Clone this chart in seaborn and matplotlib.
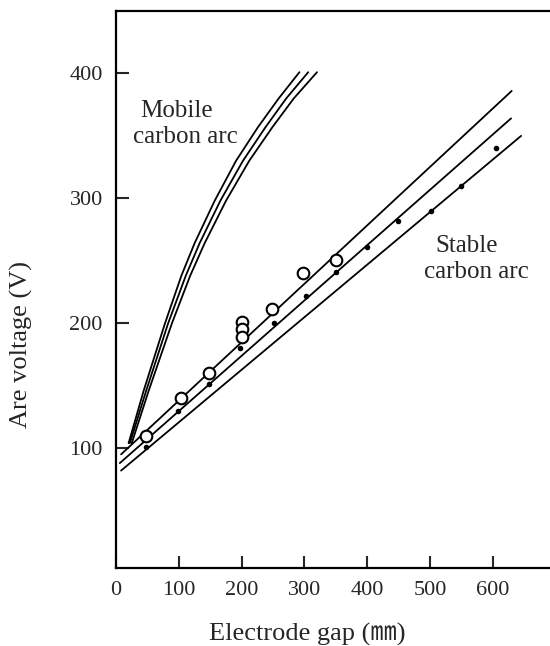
import numpy as np
import pandas as pd
import matplotlib
matplotlib.use("Agg")
import matplotlib.pyplot as plt
import seaborn as sns

# 數據
# Mobile carbon arc 三條曲線
mobile_y = [104, 146, 200, 238, 264, 298, 330, 357, 380, 401]
mobile_x1 = [20, 44, 78, 104, 125, 157, 191, 226, 259, 292]
mobile_x2 = [22, 48, 83, 111, 133, 166, 202, 238, 271, 306]
mobile_x3 = [25, 52, 89, 118, 141, 175, 212, 249, 283, 320]

# Stable carbon arc 三條直線 (起點, 終點)
stable_a_x = [8, 630]
stable_a_y = [95, 386]
stable_b_x = [6, 629]
stable_b_y = [88, 364]
stable_c_x = [8, 645]
stable_c_y = [82, 350]

# 量測點
open_x = [48, 103, 148, 200, 200, 200, 249, 297, 351]
open_y = [110, 140, 160, 201, 195, 189, 211, 240, 251]
dot_x = [48, 98, 148, 198, 251, 302, 351, 400, 449, 502, 549, 605]
dot_y = [101, 130, 151, 180, 200, 222, 241, 261, 282, 290, 310, 340]

x_ticks = [0, 100, 200, 300, 400, 500, 600]
y_ticks = [100, 200, 300, 400]

sns.set_style("ticks")
plt.rcParams["font.family"] = ["Liberation Serif", "Noto Sans CJK JP", "DejaVu Sans"]

fig = plt.figure(figsize=(5.5, 6.46), dpi=100)
ax = fig.add_axes([0.211, 0.1207, 0.789, 0.8623])

lw = 1.3
for xs in (mobile_x1, mobile_x2, mobile_x3):
    sns.lineplot(x=xs, y=mobile_y, ax=ax, color="black", lw=lw, sort=False, estimator=None)

for xs, ys in ((stable_a_x, stable_a_y), (stable_b_x, stable_b_y), (stable_c_x, stable_c_y)):
    sns.lineplot(x=xs, y=ys, ax=ax, color="black", lw=lw, sort=False, estimator=None)

sns.scatterplot(x=open_x, y=open_y, ax=ax, s=70, facecolor="white",
                edgecolor="black", linewidth=1.5, zorder=5)
sns.scatterplot(x=dot_x, y=dot_y, ax=ax, s=16, color="black",
                edgecolor="black", linewidth=0, zorder=5)

# 曲線標籤
ax.text(97, 370, "Mobile", ha="center", va="center", fontsize=18)
ax.text(110, 349, "carbon arc", ha="center", va="center", fontsize=18)
ax.text(559, 262, "Stable", ha="center", va="center", fontsize=18)
ax.text(573, 241, "carbon arc", ha="center", va="center", fontsize=18)

ax.set_xlim(0, 691)
ax.set_ylim(4, 450)
ax.set_xticks(x_ticks)
ax.set_yticks(y_ticks)
ax.tick_params(direction="in", length=9, width=1.5, labelsize=16)
ax.tick_params(axis="x", pad=9)
ax.tick_params(axis="y", pad=9.5)

ax.set_xlabel("Electrode gap (㎜)", fontsize=19, va="center")
ax.set_ylabel("Are voltage (V)", fontsize=19, va="center")
ax.xaxis.set_label_coords(0.44, -0.1185)
ax.yaxis.set_label_coords(-0.217, 0.402)

ax.spines["right"].set_visible(False)
for s in ("left", "bottom", "top"):
    ax.spines[s].set_linewidth(1.6)
    ax.spines[s].set_color("black")

fig.savefig("out.png", dpi=100)
